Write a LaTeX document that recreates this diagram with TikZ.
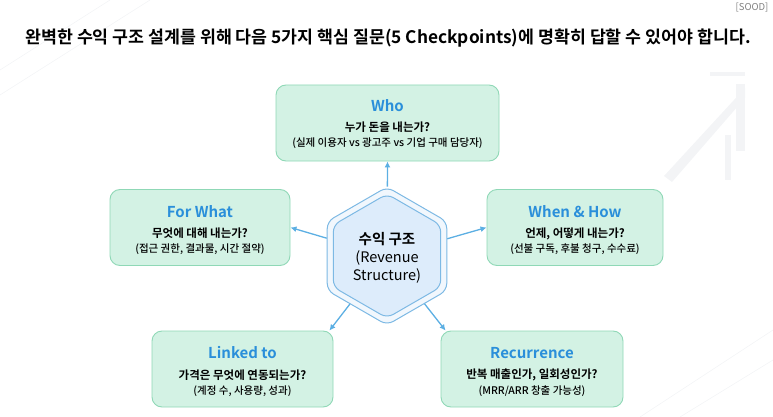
\documentclass[tikz,border=0pt]{standalone}
\usepackage{fontspec}
\setmainfont{Noto Sans CJK KR}[BoldFont={Noto Sans CJK KR Bold}]
\newfontfamily\medfont{Noto Sans CJK KR Medium}
\usetikzlibrary{shapes.geometric,arrows.meta}

\definecolor{cardfill}{HTML}{D3F2E4}
\definecolor{cardline}{HTML}{8FD8B6}
\definecolor{headblue}{HTML}{2A8FDA}
\definecolor{linkblue}{HTML}{5CAFE3}
\definecolor{hexline}{HTML}{7DB9E4}
\definecolor{hexfill}{HTML}{DDECFB}
\definecolor{hexring}{HTML}{F1F7FD}
\definecolor{faint}{HTML}{F3F4F6}

\begin{document}
\begin{tikzpicture}[x=1pt, y=-1pt,
    card/.style={draw=cardline, fill=cardfill, line width=0.9pt, rounded corners=10pt, minimum height=76pt, inner sep=0pt},
    cardhead/.style={text=headblue, font=\fontsize{15}{17}\selectfont\bfseries},
    cardq/.style={font=\fontsize{11.5}{13}\selectfont\bfseries},
    cardnote/.style={font=\fontsize{10.5}{12}\medfont},
    hexa/.style={regular polygon, regular polygon sides=6, regular polygon rotate=30, draw=hexline, line width=1pt, rounded corners=7pt, inner sep=0pt},
    link/.style={draw=linkblue, line width=1.3pt, -{Latex[length=6pt,width=6pt]}}]
    \useasboundingbox (0,0) rectangle (773,417);

    % faint background arrow
    \fill[faint] (710,72) rectangle (745,76);
    \fill[faint] (736,84) rectangle (745,151);
    \fill[faint] (745,88) -- (745,98) -- (672,182) -- (664,176) -- cycle;
    \fill[faint] (725,135) rectangle (731,180);
    \draw[faint, line width=0.6pt] (0,70) -- (110,0);
    \draw[faint, line width=0.6pt] (0,95) -- (150,0);
    \draw[faint, line width=0.6pt] (640,417) -- (773,330);
    \draw[faint, line width=0.6pt] (680,417) -- (773,360);

    % Title
    \node[font=\fontsize{9.5}{11}\selectfont, text=gray] (tag) at (752,8) {[SOOD]};
    \node[font=\fontsize{17.3}{19}\selectfont\bfseries] (title) at (388,38)
        {완벽한 수익 구조 설계를 위해 다음 5가지 핵심 질문(5 Checkpoints)에 명확히 답할 수 있어야 합니다.};

    % Center hexagon
    \node[hexa, fill=hexring, minimum size=138pt] (hexout) at (387,256) {};
    \node[hexa, fill=hexfill, minimum size=124pt] (hexin) at (387,256) {};
    \node[align=center, font=\fontsize{14.5}{18}\selectfont] (hexlabel) at (387,258)
        {\textbf{수익 구조}\\(Revenue\\Structure)};

    % Who
    \node[card, minimum width=223pt] (who) at (387.5,123) {};
    \node[cardhead] (whoT) at ([yshift=17pt]who.center) {Who};
    \node[cardq] (whoQ) at ([yshift=-4pt]who.center) {누가 돈을 내는가?};
    \node[cardnote] (whoN) at ([yshift=-20pt]who.center) {(실제 이용자 vs 광고주 vs 기업 구매 담당자)};

    % For What
    \node[card, minimum width=180pt] (what) at (200,227.5) {};
    \node[cardhead] (whatT) at ([yshift=16pt]what.center) {For What};
    \node[cardq] (whatQ) at ([yshift=-6pt]what.center) {무엇에 대해 내는가?};
    \node[cardnote] (whatN) at ([yshift=-22pt]what.center) {(접근 권한, 결과물, 시간 절약)};

    % When & How
    \node[card, minimum width=176pt] (when) at (575,227.5) {};
    \node[cardhead] (whenT) at ([yshift=16pt]when.center) {When \& How};
    \node[cardq] (whenQ) at ([yshift=-6pt]when.center) {언제, 어떻게 내는가?};
    \node[cardnote] (whenN) at ([yshift=-22pt]when.center) {(선불 구독, 후불 청구, 수수료)};

    % Linked to
    \node[card, minimum width=181pt] (linked) at (242.5,369) {};
    \node[cardhead] (linkedT) at ([yshift=16pt]linked.center) {Linked to};
    \node[cardq] (linkedQ) at ([yshift=-6pt]linked.center) {가격은 무엇에 연동되는가?};
    \node[cardnote] (linkedN) at ([yshift=-22pt]linked.center) {(계정 수, 사용량, 성과)};

    % Recurrence
    \node[card, minimum width=182pt] (recur) at (532,369) {};
    \node[cardhead] (recurT) at ([yshift=16pt]recur.center) {Recurrence};
    \node[cardq] (recurQ) at ([yshift=-6pt]recur.center) {반복 매출인가, 일회성인가?};
    \node[cardnote] (recurN) at ([yshift=-22pt]recur.center) {(MRR/ARR 창출 가능성)};

    % Arrows out of the hexagon
    \draw[link] (hexout) -- (who.south);
    \draw[link] (hexout) -- (what.east);
    \draw[link] (hexout) -- (when.west);
    \draw[link] (hexout) -- ([xshift=-4pt]linked.north east);
    \draw[link] (hexout) -- ([xshift=5pt]recur.north west);
\end{tikzpicture}
\end{document}
